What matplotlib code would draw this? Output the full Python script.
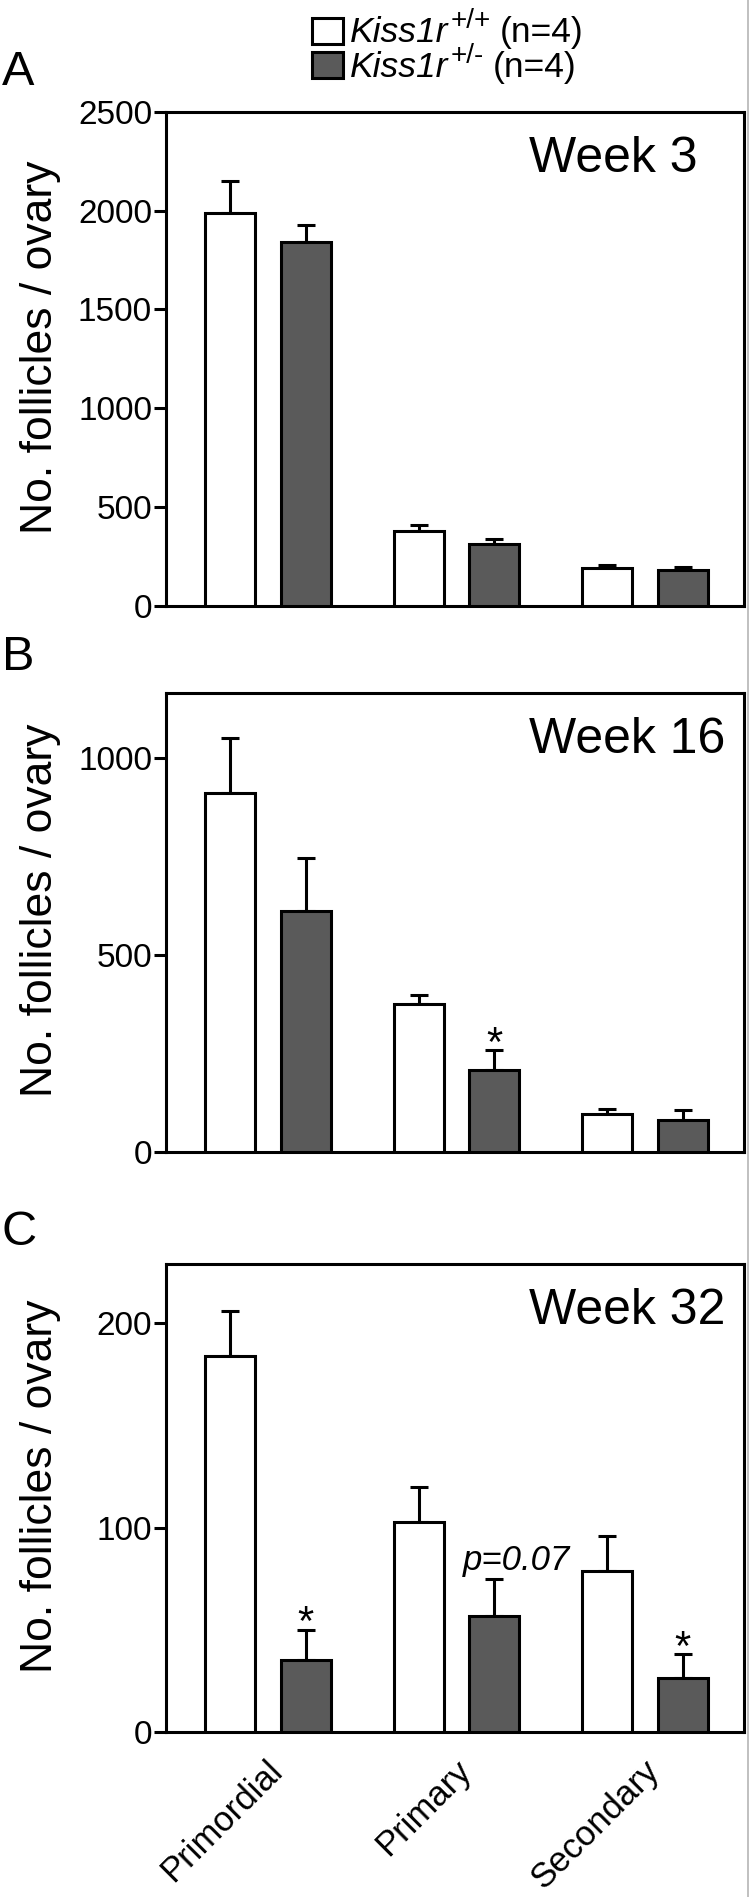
import matplotlib

matplotlib.use('Agg')
import matplotlib.pyplot as plt
import numpy as np
from matplotlib.patches import Rectangle
from matplotlib.lines import Line2D

plt.rcParams['font.family'] = ['Liberation Sans', 'DejaVu Sans']

categories = ['Primordial', 'Primary', 'Secondary']
weeks = ['Week 3', 'Week 16', 'Week 32']
panel_letters = ['A', 'B', 'C']

# mean follicle counts and SEM, wild type (+/+) and heterozygous (+/-)
wt_mean = [[1990, 379, 194], [910, 376, 97], [184, 103, 79]]
wt_sem = [[160, 33, 13], [141, 23, 11], [22, 17, 17]]
het_mean = [[1843, 315, 180], [611, 209, 82], [35, 57, 26.5]]
het_sem = [[86, 22, 19], [136, 49, 25], [15, 18, 11.5]]

# significance marks above the het bars ('' = none)
het_marks = [['', '', ''], ['', '*', ''], ['*', 'p', '*']]

ylims = [2500, 1165, 229]
yticks = [[0, 500, 1000, 1500, 2000, 2500], [0, 500, 1000], [0, 100, 200]]

legend_genotypes = ['+/+', '+/-']
legend_n = ['(n=4)', '(n=4)']

GRAY = '#5a5a5a'
LW = 2.2
W, H = 750, 1897

fig = plt.figure(figsize=(7.5, 18.97), dpi=100)
renderer = fig.canvas.get_renderer()

# axes boxes in pixels: (top, bottom)
boxes = [(111.7, 606), (693, 1152), (1264, 1732)]
ax_left, ax_right = 166, 744
letter_base = [85, 670, 1245]

x = np.arange(len(categories))
off, bw = 0.2, 0.265

for i, (top, bot) in enumerate(boxes):
    ax = fig.add_axes([ax_left / W, 1 - bot / H, (ax_right - ax_left) / W, (bot - top) / H])
    wm, ws = np.array(wt_mean[i]), np.array(wt_sem[i])
    hm, hs = np.array(het_mean[i]), np.array(het_sem[i])
    ax.bar(x - off, wm, bw, color='white', edgecolor='black', linewidth=LW, zorder=3)
    ax.bar(x + off, hm, bw, color=GRAY, edgecolor='black', linewidth=LW, zorder=3)
    for xs, m, s in [(x - off, wm, ws), (x + off, hm, hs)]:
        ax.errorbar(xs, m, yerr=[np.zeros_like(s), s], fmt='none', ecolor='black',
                    elinewidth=LW, capsize=6.5, capthick=LW, zorder=2)
    for j, mk in enumerate(het_marks[i]):
        if mk == '*':
            ax.annotate('*', (x[j] + off, hm[j] + hs[j]), xytext=(0, -4),
                        textcoords='offset points', ha='center', va='baseline',
                        fontsize=30)
        elif mk == 'p':
            ax.annotate('p=0.07', (x[j] + off, hm[j] + hs[j]), xytext=(16, 6),
                        textcoords='offset points', ha='center', va='baseline',
                        fontsize=25, style='italic')
    ax.set_xlim(-0.54, 2.525)
    ax.set_ylim(0, ylims[i])
    ax.set_yticks(yticks[i])
    ax.tick_params(axis='y', labelsize=24, length=9, width=LW, pad=1)
    for sp in ax.spines.values():
        sp.set_linewidth(LW)
    if i < 2:
        ax.set_xticks([])
    else:
        ax.set_xticks(x + 0.05)
        ax.set_xticklabels(categories, rotation=45, ha='right', va='center',
                           rotation_mode='anchor', fontsize=25)
        ax.tick_params(axis='x', length=0, pad=24)
    ax.text((529 - ax_left) / (ax_right - ax_left), 1 - 60 / (bot - top), weeks[i],
            transform=ax.transAxes, fontsize=36, ha='left', va='baseline')
    fig.text(41 / W, 1 - ((top + bot) / 2 - 12) / H, 'No. follicles / ovary',
             rotation=90, ha='center', va='center', fontsize=32)
    fig.text(2 / W, 1 - letter_base[i] / H, panel_letters[i], fontsize=35,
             ha='left', va='baseline')

# legend drawn by hand at the top: box, italic gene name, superscript genotype, n
for k, col in enumerate(['white', GRAY]):
    y0 = [18, 52][k]
    base = [42, 77][k]
    fig.patches.append(Rectangle((312 / W, 1 - (y0 + 26) / H), 31 / W, 26 / H,
                                 facecolor=col, edgecolor='black', linewidth=LW,
                                 transform=fig.transFigure, figure=fig))
    t1 = fig.text(350 / W, 1 - base / H, 'Kiss1r', fontsize=25.5, style='italic',
                  ha='left', va='baseline')
    x1 = t1.get_window_extent(renderer).x1
    t2 = fig.text((x1 + 2) / W, 1 - (base - 14) / H, legend_genotypes[k], fontsize=20,
                  ha='left', va='baseline')
    x2 = t2.get_window_extent(renderer).x1
    fig.text((x2 + 9) / W, 1 - base / H, legend_n[k], fontsize=25.5,
             ha='left', va='baseline')

# thin page rule at the right edge
fig.lines.append(Line2D([747.5 / W, 747.5 / W], [0, 1], color='#b5b5b5', linewidth=1.2,
                        transform=fig.transFigure, figure=fig))

fig.savefig('out.png', dpi=100)
